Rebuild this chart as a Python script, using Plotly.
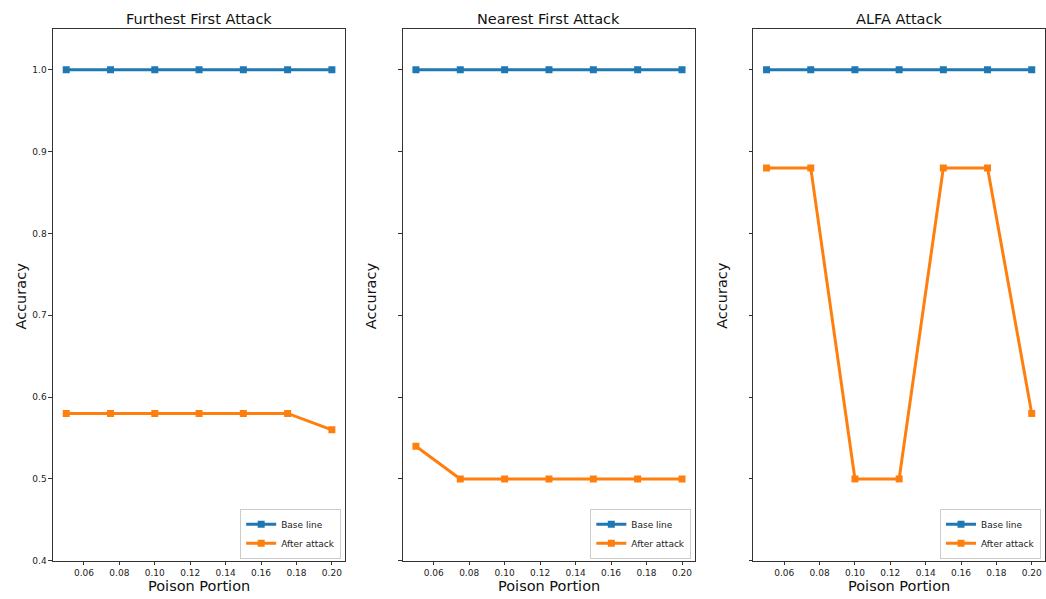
import plotly.graph_objects as go

poison_portion = [0.05, 0.075, 0.10, 0.125, 0.15, 0.175, 0.20]
panel_titles = ["Furthest First Attack", "Nearest First Attack", "ALFA Attack"]
base_line = [1.0, 1.0, 1.0, 1.0, 1.0, 1.0, 1.0]
after_furthest = [0.58, 0.58, 0.58, 0.58, 0.58, 0.58, 0.56]
after_nearest = [0.54, 0.50, 0.50, 0.50, 0.50, 0.50, 0.50]
after_alfa = [0.88, 0.88, 0.50, 0.50, 0.88, 0.88, 0.58]
after_attack = [after_furthest, after_nearest, after_alfa]
y_ticks = [0.4, 0.5, 0.6, 0.7, 0.8, 0.9, 1.0]
x_ticks = [0.06, 0.08, 0.10, 0.12, 0.14, 0.16, 0.18, 0.20]

W, H = 1046, 599
BLUE, ORANGE = "#1f77b4", "#ff7f0e"
FONT = "DejaVu Sans"

# panel extents in pixels (left, right); shared vertical extent
panels_px = [(53, 345.5), (403, 696), (754, 1046)]
top_px, bottom_px = 29, 565.5
y_dom = [1 - bottom_px / H, 1 - top_px / H]

fig = go.Figure()
annotations = []
legend_cfg = {}

for i, (left, right) in enumerate(panels_px):
    n = "" if i == 0 else str(i + 1)
    xa, ya = "x" + n, "y" + n
    leg = "legend" if i == 0 else f"legend{i + 1}"
    fig.add_trace(go.Scatter(
        x=poison_portion, y=base_line, name="Base line", mode="lines+markers",
        line=dict(color=BLUE, width=3), marker=dict(symbol="square", size=7, color=BLUE),
        xaxis=xa, yaxis=ya, legend=leg))
    fig.add_trace(go.Scatter(
        x=poison_portion, y=after_attack[i], name="After attack", mode="lines+markers",
        line=dict(color=ORANGE, width=3), marker=dict(symbol="square", size=7, color=ORANGE),
        xaxis=xa, yaxis=ya, legend=leg))

    dom = [left / W, min(right / W, 1.0)]
    axis_common = dict(showline=True, mirror=True, linecolor="#333", linewidth=1,
                       showgrid=False, zeroline=False, ticks="outside", ticklen=3.5,
                       tickcolor="#333", tickfont=dict(family=FONT, size=9, color="#222"))
    fig.layout["xaxis" + n] = dict(domain=dom, range=[0.0425, 0.2075], tickvals=x_ticks,
                                   ticktext=[f"{v:.2f}" for v in x_ticks],
                                   anchor=ya, **axis_common)
    fig.layout["yaxis" + n] = dict(domain=y_dom, range=[0.4, 1.05], tickvals=y_ticks,
                                   ticktext=[f"{v:.1f}" for v in y_ticks],
                                   showticklabels=(i == 0), anchor=xa, **axis_common)

    cx = (left + min(right, W)) / 2 / W
    annotations.append(dict(text=panel_titles[i], x=cx, y=1 - 19 / H, xref="paper", yref="paper",
                            showarrow=False, font=dict(family=FONT, size=14.5, color="#111"),
                            xanchor="center", yanchor="middle"))
    annotations.append(dict(text="Poison Portion", x=cx, y=1 - 591 / H, xref="paper", yref="paper",
                            showarrow=False, font=dict(family=FONT, size=14.5, color="#111"),
                            xanchor="center", yanchor="middle"))
    annotations.append(dict(text="Accuracy", x=(left - 32) / W, y=1 - 298 / H, xref="paper",
                            yref="paper", showarrow=False, textangle=-90,
                            font=dict(family=FONT, size=14.5, color="#111"),
                            xanchor="center", yanchor="middle"))

    legend_cfg[leg] = dict(x=(min(right, W) - 4) / W, y=1 - (bottom_px - 2) / H,
                           xanchor="right", yanchor="bottom", bgcolor="rgba(255,255,255,0.85)",
                           bordercolor="#ccc", borderwidth=1, itemwidth=30,
                           font=dict(family=FONT, size=9, color="#222"),
                           tracegroupgap=0)

fig.update_layout(width=W, height=H, margin=dict(l=0, r=0, t=0, b=0),
                  paper_bgcolor="white", plot_bgcolor="white",
                  annotations=annotations, showlegend=True, **legend_cfg)

fig.write_html("out.html")
